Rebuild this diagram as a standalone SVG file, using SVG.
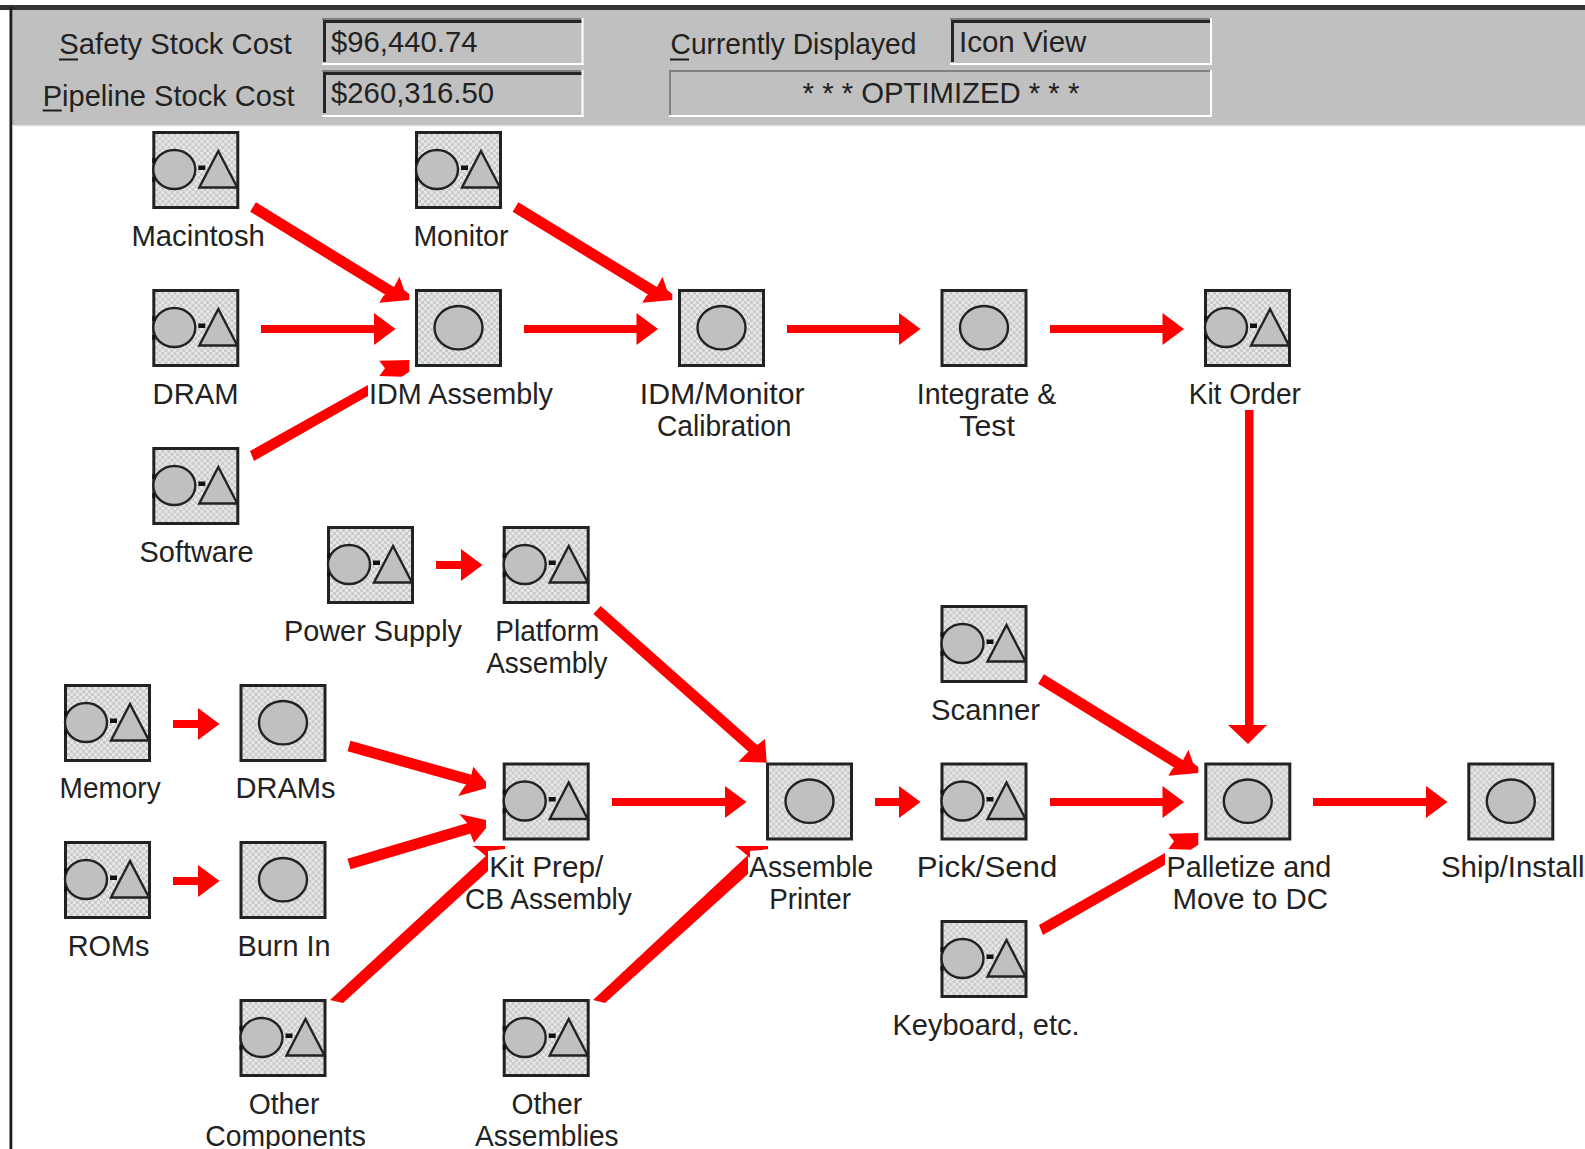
<svg xmlns="http://www.w3.org/2000/svg" xmlns:xlink="http://www.w3.org/1999/xlink" width="1585" height="1149" viewBox="0 0 1585 1149">
<style>
text{font-family:"Liberation Sans",Arial,sans-serif;font-size:29px;fill:#222}
.box{fill:url(#dither);stroke:#222;stroke-width:3}
.shape{fill:#c0c0c0;stroke:#222;stroke-width:2.4}
.tick{fill:#111}
.c{fill:#ff0000;stroke:none}
.l{stroke:#ff0000;stroke-width:11;fill:none}
.dark{fill:#262626}
.mid{fill:#808080}
.lite{fill:#ffffff}
.ul{fill:#1c1c1c}
</style>
<defs>
<pattern id="dither" width="6" height="6" patternUnits="userSpaceOnUse">
<rect width="6" height="6" fill="#e6e6e6"/>
<rect width="3" height="3" fill="#cbcbcb"/>
<rect x="3" y="3" width="3" height="3" fill="#cbcbcb"/>
</pattern>
<g id="icon-resource">
<rect class="box" x="1.500" y="1.500" width="84" height="75"/>
<ellipse class="shape" cx="22" cy="38.5" rx="21" ry="19.5"/>
<rect class="tick" x="46" y="34.5" width="7" height="4.5"/>
<polygon class="shape" points="66,20 47,56.5 85,56.5"/>
<rect class="tick" x="0" y="27" width="3" height="5"/>
<rect class="tick" x="0" y="46" width="3" height="5"/>
</g>
<g id="icon-process">
<rect class="box" x="1.500" y="1.500" width="84" height="75"/>
<ellipse class="shape" cx="43.5" cy="38.7" rx="24" ry="21.7"/>
</g>
<polygon id="head-tl" class="c" points="-15.5,-12.3 -11,1 -5.7,5 -5.7,11 -35.7,13.7 -31.7,7 -22,0"/>
<polygon id="head-bl" class="c" points="-35.7,71.7 -5.7,71 -5.7,82.7 -13.3,87.7 -35.7,87 -30,79.3"/>
</defs>
<rect width="1585" height="1149" fill="#fff"/>
<g id="panel">
<rect x="12" y="8" width="1573" height="117" fill="#c0c0c0"/>
<rect x="0" y="5" width="1585" height="5" fill="#333"/>
<rect x="9.500" y="7" width="2.800" height="1142" fill="#1c1c1c"/>
<rect x="12" y="125" width="1573" height="1.500" fill="#e4e4e4"/>
<g id="safety-field">
<rect class="mid" x="322" y="18" width="261" height="2"/><rect class="dark" x="323" y="20" width="259" height="3"/><rect class="dark" x="323" y="20" width="3" height="42"/><rect class="lite" x="322" y="63" width="262" height="2"/><rect class="lite" x="581.500" y="18" width="2" height="47"/>
<text x="331" y="51.700" textLength="146.500" lengthAdjust="spacingAndGlyphs">$96,440.74</text>
</g>
<g id="pipeline-field">
<rect class="mid" x="322" y="70" width="261" height="2"/><rect class="dark" x="323" y="72" width="259" height="3"/><rect class="dark" x="323" y="72" width="3" height="41"/><rect class="lite" x="322" y="115" width="262" height="2"/><rect class="lite" x="581.500" y="70" width="2" height="47"/>
<text x="331" y="102.500" textLength="163" lengthAdjust="spacingAndGlyphs">$260,316.50</text>
</g>
<g id="view-field">
<rect class="mid" x="950" y="18" width="261" height="2"/><rect class="dark" x="951" y="20" width="259" height="3"/><rect class="dark" x="951" y="20" width="3" height="42"/><rect class="lite" x="950" y="63" width="262" height="2"/><rect class="lite" x="1210" y="18" width="2" height="47"/>
<text x="959" y="51.700" textLength="127.400" lengthAdjust="spacingAndGlyphs">Icon View</text>
</g>
<g id="status-field">
<rect class="mid" x="669" y="70" width="542" height="2"/><rect class="mid" x="669" y="70" width="2" height="46"/><rect class="lite" x="669" y="115" width="543" height="2"/><rect class="lite" x="1210" y="70" width="2" height="47"/>
<text x="802.600" y="103.300" textLength="276.700" lengthAdjust="spacingAndGlyphs">* * * OPTIMIZED * * *</text>
</g>
<text x="59.300" y="54" textLength="232.400" lengthAdjust="spacingAndGlyphs">Safety Stock Cost</text>
<rect class="ul" x="59" y="58.500" width="19" height="2"/>
<text x="42.700" y="106" textLength="251.800" lengthAdjust="spacingAndGlyphs">Pipeline Stock Cost</text>
<rect class="ul" x="42.700" y="109.500" width="19" height="2"/>
<text x="670.600" y="54" textLength="245.800" lengthAdjust="spacingAndGlyphs">Currently Displayed</text>
<rect class="ul" x="670" y="58.500" width="19" height="2"/>
</g>
<g id="connectors">
<line class="l" x1="253" y1="207" x2="398" y2="296"/><use href="#head-tl" x="415" y="289"/>
<line class="l" x1="515.500" y1="207" x2="661" y2="296"/><use href="#head-tl" x="678" y="289"/>
<polygon class="c" points="250,451 368,385 368,396 254,461"/><use href="#head-bl" x="415" y="289"/>
<path class="c" d="M261 325H374V313L395.500 329L374 345V333H261Z"/>
<path class="c" d="M524 325H636.500V313L658 329L636.500 345V333H524Z"/>
<path class="c" d="M787 325H899V313L920.500 329L899 345V333H787Z"/>
<path class="c" d="M1050 325H1162.500V313L1184 329L1162.500 345V333H1050Z"/>
<path class="c" d="M1245 410V725H1228L1248 744L1267 725H1253.500V410Z"/>
<path class="c" d="M436 561H461V549L482.500 565L461 581V569H436Z"/>
<path class="c" d="M173 720H198V708L219.500 724L198 740V728H173Z"/>
<path class="c" d="M173 877H198V865L219.500 881L198 897V885H173Z"/>
<path class="c" d="M612 798H725V786L746.500 802L725 818V806H612Z"/>
<path class="c" d="M875 798H899V786L920.500 802L899 818V806H875Z"/>
<path class="c" d="M1050 798H1162.500V786L1184 802L1162.500 818V806H1050Z"/>
<path class="c" d="M1313 798H1426V786L1447.500 802L1426 818V806H1313Z"/>
<line class="l" x1="597" y1="610" x2="757" y2="752"/>
<polygon class="c" points="765,739 766.700,762.700 738.300,761.700 748,752"/>
<line class="l" x1="1041" y1="679" x2="1187" y2="769"/><use href="#head-tl" x="1204" y="762"/>
<polygon class="c" points="1039,925 1165,853 1165,865 1043,935"/><use href="#head-bl" x="1204" y="762"/>
<line class="l" x1="349" y1="746" x2="470" y2="780"/>
<polygon class="c" points="473.300,766.700 486,781.700 486,788.300 458.300,796 463.300,788 470,780"/>
<line class="l" x1="349" y1="864" x2="470" y2="828"/>
<polygon class="c" points="459.300,814 486,820 486,828.300 474,842.700 470,833 468,824"/>
<polygon class="c" points="330,1000 488,854 488,871 343,1003"/>
<polygon class="c" points="472.700,846 505,846 505,849 488,851 488,858 480,851"/>
<polygon class="c" points="593,1000 748,855 748,874 605,1003"/>
<polygon class="c" points="735,846 768,846 768,849.300 750,851 750,858 742,851"/>
</g>
<g id="nodes">
<g id="n-macintosh"><use href="#icon-resource" x="152.300" y="131"/><text x="131.400" y="246" textLength="133.400" lengthAdjust="spacingAndGlyphs">Macintosh</text></g>
<g id="n-monitor"><use href="#icon-resource" x="415" y="131"/><text x="413.400" y="246" textLength="95" lengthAdjust="spacingAndGlyphs">Monitor</text></g>
<g id="n-dram"><use href="#icon-resource" x="152.300" y="289"/><text x="152.600" y="403.500" textLength="85.900" lengthAdjust="spacingAndGlyphs">DRAM</text></g>
<g id="n-idm-assembly"><use href="#icon-process" x="415" y="289"/><text x="369" y="403.500" textLength="184" lengthAdjust="spacingAndGlyphs">IDM Assembly</text></g>
<g id="n-idm-calibration"><use href="#icon-process" x="678" y="289"/><text x="639.800" y="403.500" textLength="164.800" lengthAdjust="spacingAndGlyphs">IDM/Monitor</text><text x="657" y="435.500" textLength="134.500" lengthAdjust="spacingAndGlyphs">Calibration</text></g>
<g id="n-integrate"><use href="#icon-process" x="940.500" y="289"/><text x="916.800" y="403.500" textLength="139.500" lengthAdjust="spacingAndGlyphs">Integrate &amp;</text><text x="959.300" y="435.500" textLength="55.500" lengthAdjust="spacingAndGlyphs">Test</text></g>
<g id="n-kit-order"><use href="#icon-resource" x="1204" y="289"/><text x="1188.700" y="403.500" textLength="112.200" lengthAdjust="spacingAndGlyphs">Kit Order</text></g>
<g id="n-software"><use href="#icon-resource" x="152.300" y="447"/><text x="139.500" y="561.500" textLength="114.200" lengthAdjust="spacingAndGlyphs">Software</text></g>
<g id="n-power-supply"><use href="#icon-resource" x="327" y="526"/><text x="284" y="640.500" textLength="178" lengthAdjust="spacingAndGlyphs">Power Supply</text></g>
<g id="n-platform"><use href="#icon-resource" x="502.700" y="526"/><text x="495.300" y="640.500" textLength="104.100" lengthAdjust="spacingAndGlyphs">Platform</text><text x="486.200" y="672.500" textLength="121.300" lengthAdjust="spacingAndGlyphs">Assembly</text></g>
<g id="n-scanner"><use href="#icon-resource" x="940.500" y="605"/><text x="931" y="719.500" textLength="109" lengthAdjust="spacingAndGlyphs">Scanner</text></g>
<g id="n-memory"><use href="#icon-resource" x="64" y="684"/><text x="59.600" y="798" textLength="101.100" lengthAdjust="spacingAndGlyphs">Memory</text></g>
<g id="n-drams"><use href="#icon-process" x="239.500" y="684"/><text x="235.500" y="798" textLength="100.100" lengthAdjust="spacingAndGlyphs">DRAMs</text></g>
<g id="n-kit-prep"><use href="#icon-resource" x="502.700" y="762.500"/><text x="489.200" y="877" textLength="114.200" lengthAdjust="spacingAndGlyphs">Kit Prep/</text><text x="465" y="909" textLength="166.800" lengthAdjust="spacingAndGlyphs">CB Assembly</text></g>
<g id="n-assemble"><use href="#icon-process" x="766" y="762.500"/><text x="749" y="877" textLength="124.300" lengthAdjust="spacingAndGlyphs">Assemble</text><text x="769.200" y="909" textLength="81.800" lengthAdjust="spacingAndGlyphs">Printer</text></g>
<g id="n-pick-send"><use href="#icon-resource" x="940.500" y="762.500"/><text x="916.800" y="877" textLength="140.500" lengthAdjust="spacingAndGlyphs">Pick/Send</text></g>
<g id="n-palletize"><use href="#icon-process" x="1204.300" y="762.500"/><text x="1166.500" y="877" textLength="164.700" lengthAdjust="spacingAndGlyphs">Palletize and</text><text x="1172.500" y="909" textLength="155.500" lengthAdjust="spacingAndGlyphs">Move to DC</text></g>
<g id="n-ship"><use href="#icon-process" x="1467.300" y="762.500"/><text x="1441" y="877" textLength="143.500" lengthAdjust="spacingAndGlyphs">Ship/Install</text></g>
<g id="n-roms"><use href="#icon-resource" x="64" y="841"/><text x="67.700" y="955.500" textLength="81.900" lengthAdjust="spacingAndGlyphs">ROMs</text></g>
<g id="n-burn-in"><use href="#icon-process" x="239.500" y="841"/><text x="237.500" y="955.500" textLength="93" lengthAdjust="spacingAndGlyphs">Burn In</text></g>
<g id="n-keyboard"><use href="#icon-resource" x="940.500" y="920"/><text x="892.500" y="1034.500" textLength="187" lengthAdjust="spacingAndGlyphs">Keyboard, etc.</text></g>
<g id="n-other-components"><use href="#icon-resource" x="239.500" y="999"/><text x="248.700" y="1113.500" textLength="70.700" lengthAdjust="spacingAndGlyphs">Other</text><text x="205.200" y="1145.500" textLength="160.700" lengthAdjust="spacingAndGlyphs">Components</text></g>
<g id="n-other-assemblies"><use href="#icon-resource" x="502.700" y="999"/><text x="511.500" y="1113.500" textLength="70.700" lengthAdjust="spacingAndGlyphs">Other</text><text x="475" y="1145.500" textLength="143.600" lengthAdjust="spacingAndGlyphs">Assemblies</text></g>
</g>
</svg>
